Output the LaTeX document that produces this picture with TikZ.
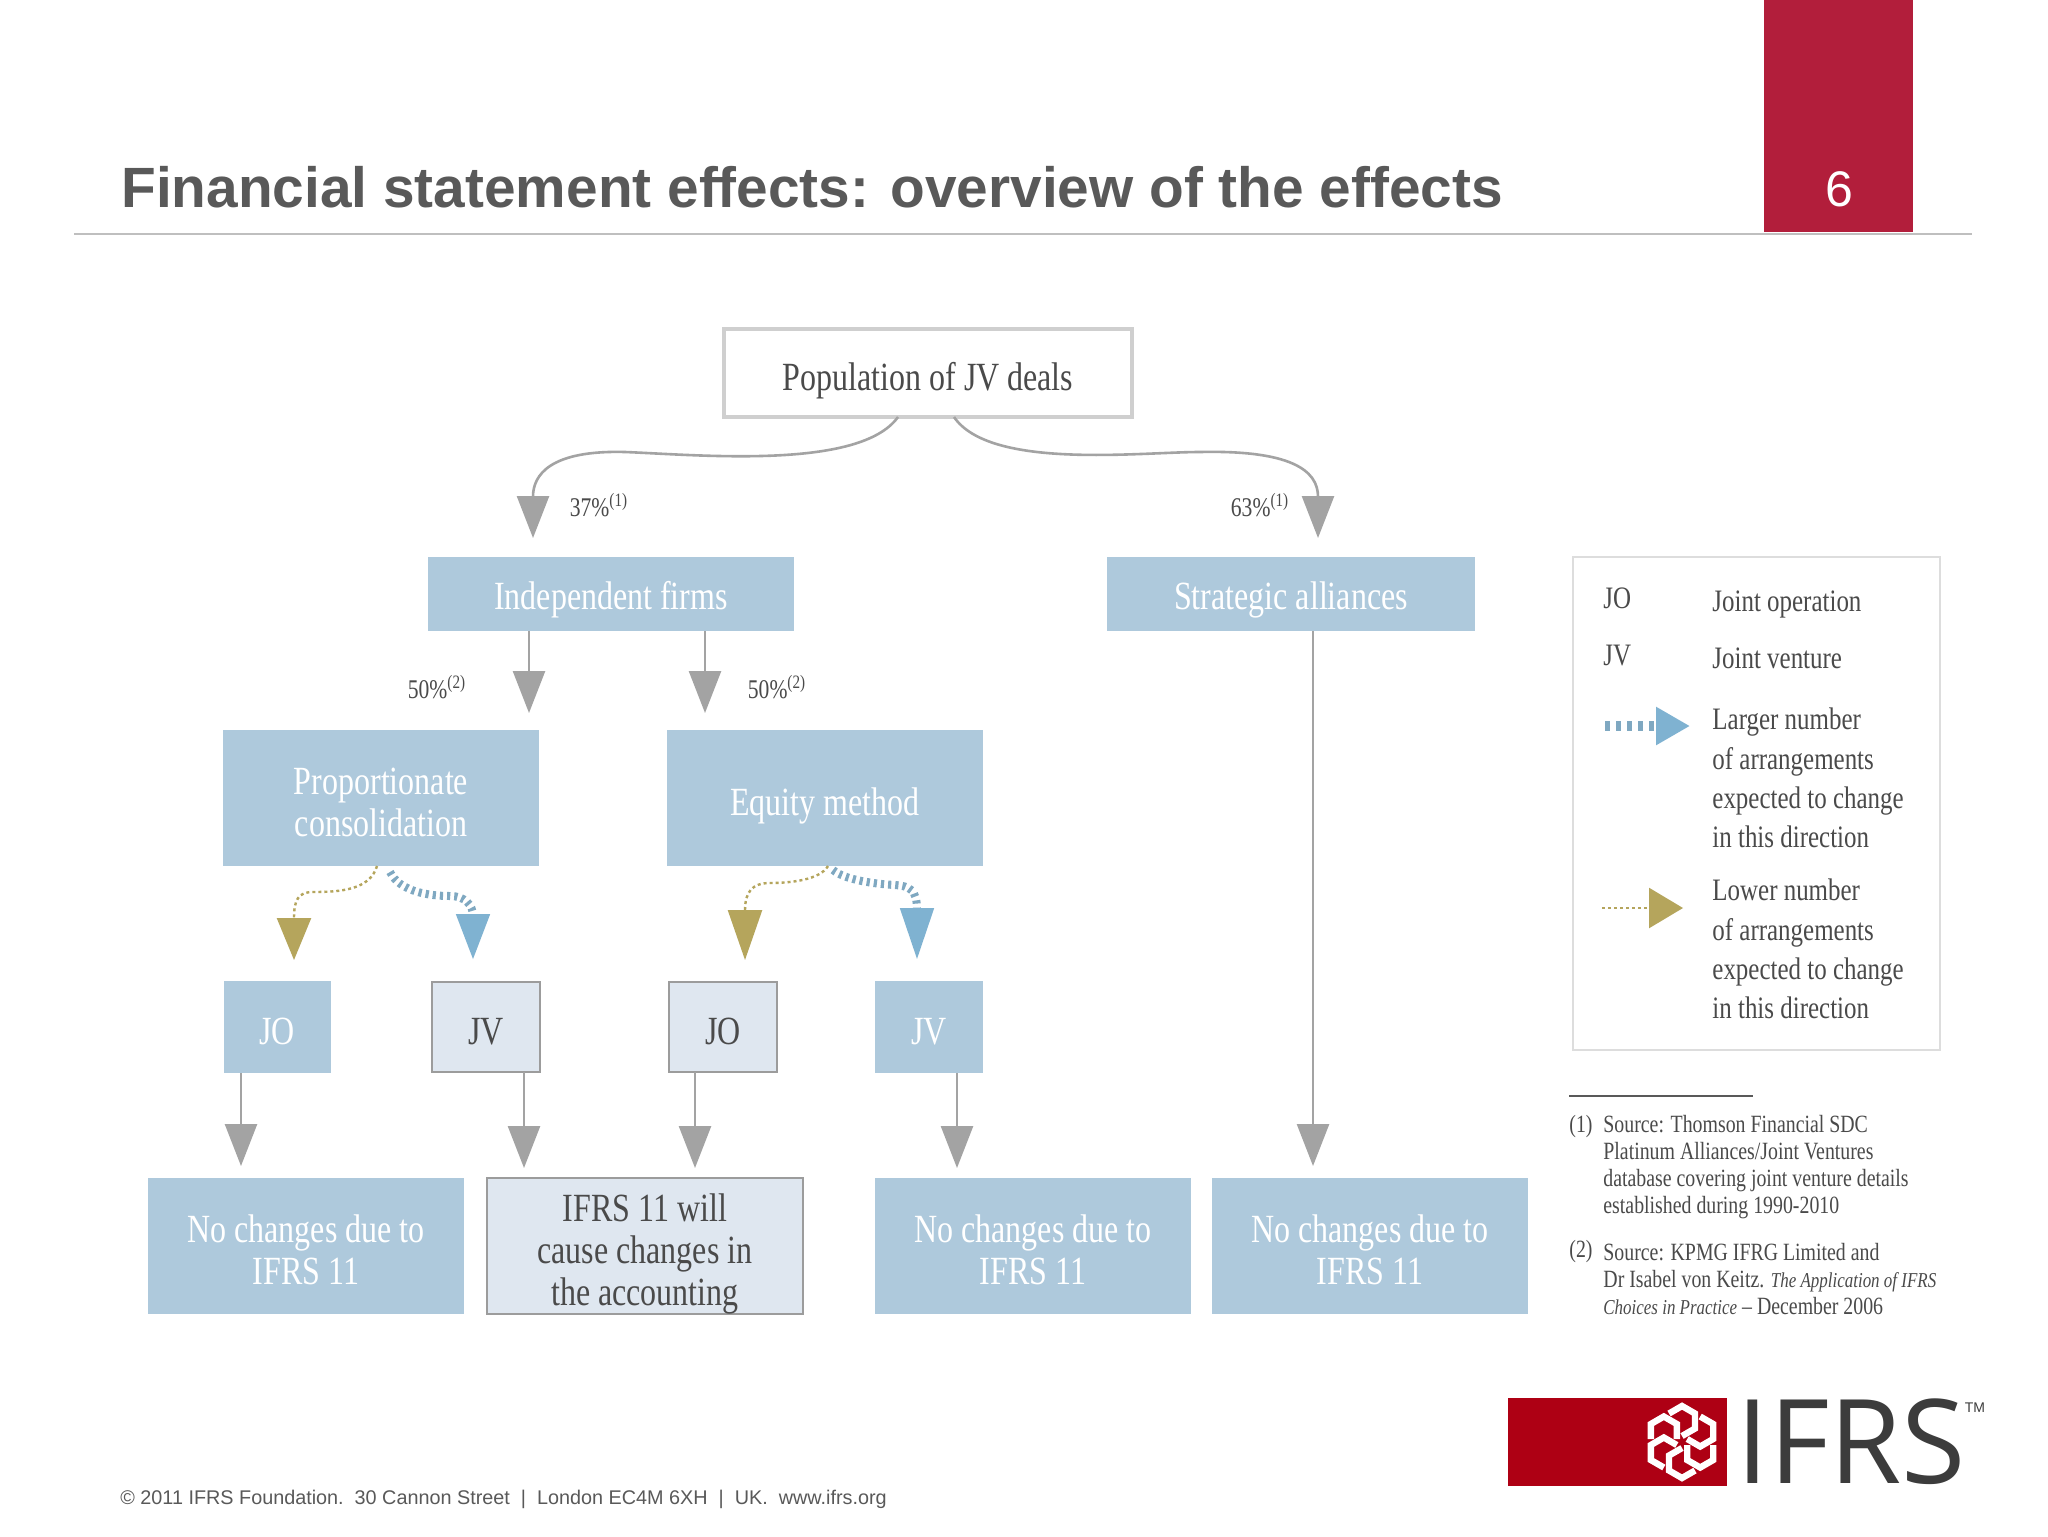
\documentclass[tikz,border=0pt]{standalone}
\usepackage{fontspec}
\setmainfont{Liberation Serif}[FakeStretch=0.8]
\setsansfont{Liberation Sans}
\newfontfamily\logofam{Open Sans}
\usepackage{tikz}
\usetikzlibrary{arrows.meta, positioning}
\definecolor{boxblue}{HTML}{AEC9DC}
\definecolor{boxpale}{HTML}{DFE7F0}
\definecolor{boxedge}{HTML}{9C9C9C}
\definecolor{palegray}{HTML}{CFCFCF}
\definecolor{flowgray}{HTML}{A3A3A3}
\definecolor{tanarrow}{HTML}{B5A55C}
\definecolor{bluearrow}{HTML}{7FB2D1}
\definecolor{slidegray}{HTML}{595959}
\definecolor{inktext}{HTML}{4A4A4A}
\definecolor{tabred}{HTML}{B21E3B}
\definecolor{logored}{HTML}{AE0014}
\definecolor{logoink}{HTML}{3C3C3C}
\newcommand\lowtext[2][-4.5pt]{\raisebox{#1}[\height][\depth]{\begin{tabular}{@{}c@{}}#2\end{tabular}}}
\tikzset{
  anybox/.style={outer sep=0pt, inner sep=0pt, font=\fontsize{20}{21}\selectfont},
  bluebox/.style={anybox, fill=boxblue, text=white},
  palebox/.style={anybox, fill=boxpale, draw=boxedge, line width=1.2pt, text=inktext},
  flow/.style={draw=flowgray, line width=1.3pt, -{Triangle[length=21pt,width=16pt]}},
  flowtan/.style={draw=tanarrow, line width=1.2pt, dash pattern=on 1.5pt off 1.5pt, -{Triangle[length=#1,width=17pt]}},
  flowtan/.default=21pt,
  flowblue/.style={draw=bluearrow!80!gray, line width=4pt, dash pattern=on 1.6pt off 2pt, -{Triangle[length=#1,width=16pt,color=bluearrow]}},
  flowblue/.default=23pt,
  pct/.style={font=\fontsize{13.5}{14}\selectfont, text=inktext},
  legend/.style={anchor=west, inner sep=0pt, align=left, text=inktext, font=\fontsize{15.6}{19.6}\selectfont},
  note/.style={anchor=west, inner sep=0pt, align=left, text=inktext, font=\fontsize{12.4}{13.5}\selectfont},
  hexknot/.style={draw=white, line width=3.2pt, line join=miter}
}
\begin{document}
\begin{tikzpicture}[x=0.5pt,y=-0.5pt]
\useasboundingbox (0,0) rectangle (2048,1536);
\fill [white] (0,0) rectangle (2048,1536);

\fill [tabred] (1764,0) rectangle (1913,232);
\draw [palegray!80!gray, line width=1.3pt] (74,234) -- (1972,234);
\node [anchor=west, inner sep=0pt, text=slidegray, font=\sffamily\bfseries\fontsize{28.4}{30}\selectfont] (title) at (121,187) {Financial statement effects: overview of the effects};
\node [inner sep=0pt, text=white, font=\sffamily\fontsize{25}{26}\selectfont] (pageno) at (1839,189) {6};

\node [anybox, draw=palegray, line width=2pt, fill=white, text=inktext, minimum width=204pt, minimum height=44pt] (pop) at (928,373) {\lowtext{Population of JV deals}};
\node [bluebox, minimum width=183pt, minimum height=37pt] (indep) at (611,594) {\lowtext[-3.3pt]{Independent firms}};
\node [bluebox, minimum width=184pt, minimum height=37pt] (strat) at (1291,594) {\lowtext[-3.3pt]{Strategic alliances}};
\node [bluebox, minimum width=158pt, minimum height=68pt] (prop) at (381,798) {\lowtext{Proportionate\\consolidation}};
\node [bluebox, minimum width=158pt, minimum height=68pt] (equity) at (825,798) {\lowtext{Equity method}};

\node [bluebox, minimum width=53.5pt, minimum height=46pt] (joa) at (277,1027) {\lowtext{JO}};
\node [palebox, minimum width=54pt, minimum height=45pt] (jva) at (486,1027) {\lowtext{JV}};
\node [palebox, minimum width=54pt, minimum height=45pt] (job) at (723,1027) {\lowtext{JO}};
\node [bluebox, minimum width=54pt, minimum height=46pt] (jvb) at (929,1027) {\lowtext{JV}};

\node [bluebox, minimum width=158pt, minimum height=68pt] (nca) at (306,1246) {\lowtext{No changes due to\\IFRS 11}};
\node [palebox, minimum width=158pt, minimum height=68pt] (cause) at (645,1246) {\lowtext{IFRS 11 will\\cause changes in\\the accounting}};
\node [bluebox, minimum width=158pt, minimum height=68pt] (ncb) at (1033,1246) {\lowtext{No changes due to\\IFRS 11}};
\node [bluebox, minimum width=158pt, minimum height=68pt] (ncc) at (1370,1246) {\lowtext{No changes due to\\IFRS 11}};

\coordinate (tipindep) at (533,538);
\coordinate (tipstrat) at (1318,538);
\coordinate (tipprop) at (529,713);
\coordinate (tipequity) at (705,713);
\coordinate (tipnca) at (241,1166);
\coordinate (tipcausea) at (524,1168);
\coordinate (tipcauseb) at (695,1168);
\coordinate (tipncb) at (957,1168);
\coordinate (tipncc) at (1313,1166);
\coordinate (tipjoa) at (294,960);
\coordinate (tipjva) at (473,960);
\coordinate (tipjob) at (745,960);
\coordinate (tipjvb) at (917,960);

\draw [flow] ([xshift=-15pt]pop.south) .. controls (860,470) and (700,455) .. (625,452) .. controls (550,450) and (533,475) .. (tipindep);
\draw [flow] ([xshift=13pt]pop.south) .. controls (990,470) and (1140,452) .. (1200,452) .. controls (1290,450) and (1318,470) .. (tipstrat);
\draw [flow] ([xshift=-41pt]indep.south) -- (tipprop);
\draw [flow] ([xshift=47pt]indep.south) -- (tipequity);
\draw [flow] ([xshift=11pt]strat.south) -- (tipncc);
\draw [flow] ([xshift=-18pt]joa.south) -- (tipnca);
\draw [flow] ([xshift=19pt]jva.south) -- (tipcausea);
\draw [flow] ([xshift=-14pt]job.south) -- (tipcauseb);
\draw [flow] ([xshift=14pt]jvb.south) -- (tipncb);

\draw [flowtan] ([xshift=-2pt]prop.south) .. controls (370,890) and (340,892) .. (313,892) .. controls (298,892) and (294,900) .. (tipjoa);
\draw [flowblue] ([xshift=4.5pt,yshift=-3pt]prop.south) .. controls (400,892) and (430,896) .. (450,896) .. controls (465,896) and (473,905) .. (tipjva);
\draw [flowtan=25pt] ([xshift=1.5pt]equity.south) .. controls (820,880) and (790,883) .. (770,883) .. controls (752,883) and (745,892) .. (tipjob);
\draw [flowblue=26pt] ([xshift=4pt,yshift=-2pt]equity.south) .. controls (845,880) and (875,884) .. (895,885) .. controls (910,886) and (917,890) .. (tipjvb);

\node [pct] (pcta) at (599,505) {37\%\textsuperscript{(1)}};
\node [pct] (pctb) at (1260,505) {63\%\textsuperscript{(1)}};
\node [pct] (pctc) at (437,687) {50\%\textsuperscript{(2)}};
\node [pct] (pctd) at (777,687) {50\%\textsuperscript{(2)}};

\node [minimum width=183.5pt, minimum height=246.5pt, inner sep=0pt, outer sep=0pt, draw=palegray!70, line width=1.2pt] (legendbox) at (1756.5,803.5) {};
\node [legend] (keyjo) at (1603,598) {JO};
\node [legend] (keyjv) at (1603,656) {JV};
\node [legend] (textjo) at (1712,604) {Joint operation};
\node [legend] (textjv) at (1712,658) {Joint venture};
\coordinate (startlarger) at (1605,726);
\coordinate (tiplarger) at (1690,726);
\coordinate (startlower) at (1602,908);
\coordinate (tiplower) at (1683,908);
\draw [flowblue, line width=5pt, dash pattern=on 2.5pt off 3pt, -{Triangle[length=17pt,width=18pt,color=bluearrow]}] (startlarger) -- (tiplarger);
\draw [flowtan, -{Triangle[length=17pt,width=20pt,color=tanarrow]}] (startlower) -- (tiplower);
\node [legend] (textlarger) at (1712,778) {Larger number\\of arrangements\\expected to change\\in this direction};
\node [legend] (textlower) at (1712,949) {Lower number\\of arrangements\\expected to change\\in this direction};

\coordinate (notel) at (1569,1096);
\coordinate (noter) at (1753,1096);
\draw [slidegray, line width=1pt] (notel) -- (noter);
\node [note] (numa) at (1569,1127) {(1)};
\node [note] (numb) at (1569,1252) {(2)};
\node [note] (notea) at (1603,1167) {Source: Thomson Financial SDC\\Platinum Alliances/Joint Ventures\\database covering joint venture details\\established during 1990-2010};
\node [note] (noteb) at (1603,1279) {Source: KPMG IFRG Limited and\\Dr Isabel von Keitz. {\fontsize{10.6}{13.5}\selectfont\itshape The Application of IFRS}\\{\fontsize{10.6}{13.5}\selectfont\itshape Choices in Practice} -- December 2006};

\node [anchor=west, inner sep=0pt, text=slidegray, font=\sffamily\fontsize{9.9}{11}\selectfont] (foot) at (120,1499) {© 2011 IFRS Foundation.\ \ 30 Cannon Street\ \ |\ \ London EC4M 6XH\ \ |\ \ UK.\ \ www.ifrs.org};

\fill [logored] (1508,1398) rectangle (1727,1486);
\foreach \a in {0,60,...,300} {
  \begin{scope}[shift={(1682,1442)}, rotate=\a]
    \begin{scope}[shift={(0,21)}]
      \draw [hexknot] (30:15) -- (90:15) -- (150:15) -- (210:15) -- (270:15);
    \end{scope}
  \end{scope}
}
\node [anchor=west, inner sep=0pt, text=logoink, font=\logofam\fontsize{58.5}{60}\selectfont] (logotext) at (1736,1442) {IFRS};
\node [inner sep=0pt, text=logoink, font=\sffamily\fontsize{7}{8}\selectfont] (logotm) at (1975,1408) {TM};
\end{tikzpicture}
\end{document}
